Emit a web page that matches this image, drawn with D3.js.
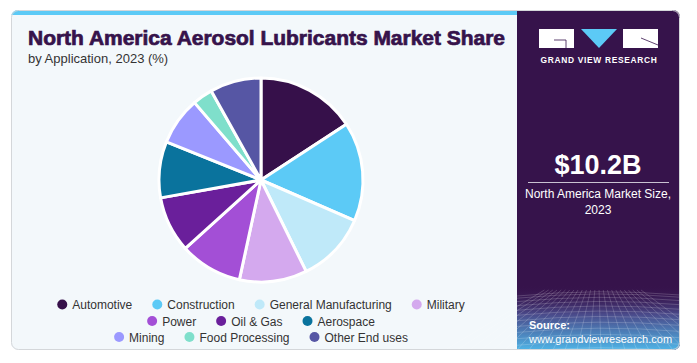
<!DOCTYPE html>
<html>
<head>
<meta charset="utf-8">
<script src="https://cdn.jsdelivr.net/npm/d3@7"></script>
<style>
  body { margin: 0; background: #fff; }
  svg { display: block; font-family: "Liberation Sans", Arial, sans-serif; }
</style>
</head>
<body>
<div id="chart"></div>
<script>
// Data (share, %)
const categories = ["Automotive", "Construction", "General Manufacturing", "Military", "Power",
                    "Oil & Gas", "Aerospace", "Mining", "Food Processing", "Other End uses"];
const shares = [15.8, 15.7, 11.2, 10.7, 9.9, 8.9, 8.9, 7.6, 3.2, 8.1];
const colors = ["#36104a", "#5ccaf6", "#bfe9f9", "#d4a9ee", "#a34fd6",
                "#6a1f9b", "#0a739d", "#9b99ff", "#7fdfcb", "#5656a4"];
const legendRows = [[0, 1, 2, 3], [4, 5, 6], [7, 8, 9]];

const W = 697, H = 363;
const svg = d3.select("#chart").append("svg")
    .attr("width", W).attr("height", H);

const defs = svg.append("defs");
const clip = defs.append("clipPath").attr("id", "card");
clip.append("rect").attr("x", 11).attr("y", 10).attr("width", 669).attr("height", 340).attr("rx", 7);

const card = svg.append("g").attr("clip-path", "url(#card)");

// Main panel
card.append("rect").attr("x", 11).attr("y", 10).attr("width", 520).attr("height", 340)
    .attr("fill", "#f3f8fb");
card.append("rect").attr("x", 11).attr("y", 10).attr("width", 520).attr("height", 5)
    .attr("fill", "#5ccaf6");

// Right panel
card.append("rect").attr("x", 517).attr("y", 10).attr("width", 163).attr("height", 340)
    .attr("fill", "#36134b");

const grad = defs.append("linearGradient").attr("id", "fade")
    .attr("x1", 0).attr("y1", 0).attr("x2", 0).attr("y2", 1);
grad.append("stop").attr("offset", 0).attr("stop-color", "#36134b").attr("stop-opacity", 0);
grad.append("stop").attr("offset", 0.45).attr("stop-color", "#4a4a8a");
grad.append("stop").attr("offset", 1).attr("stop-color", "#4fb4e6");
card.append("rect").attr("x", 517).attr("y", 285).attr("width", 163).attr("height", 65)
    .attr("fill", "url(#fade)");

// faint grid in the bottom of the panel
const grid = card.append("g").attr("stroke", "#ffffff").attr("stroke-opacity", 0.18).attr("fill", "none");
d3.range(0, 12).forEach(i => {
  const y = 292 + Math.pow(i, 1.35) * 2.2;
  grid.append("path").attr("d", `M517,${y + 4} Q598,${y - 4} 680,${y + 3}`);
});
d3.range(-6, 18).forEach(i => {
  const x0 = 517 + i * 12;
  grid.append("line").attr("x1", 598 + (x0 - 598) * 0.35).attr("y1", 290)
      .attr("x2", x0).attr("y2", 350);
});

// Outer border
svg.append("rect").attr("x", 11.5).attr("y", 10.5).attr("width", 668).attr("height", 339).attr("rx", 7)
    .attr("fill", "none").attr("stroke", "#d4d7da");

// Logo
const logo = svg.append("g");
logo.append("rect").attr("x", 539).attr("y", 29).attr("width", 35).attr("height", 19).attr("fill", "#fff");
logo.append("path").attr("d", "M554,40 L566,40 L566,48").attr("stroke", "#36134b").attr("stroke-width", 0.8).attr("fill", "none");
logo.append("path").attr("d", "M581,29 L617,29 L599,48 Z").attr("fill", "#5ccaf6");
logo.append("rect").attr("x", 623).attr("y", 29).attr("width", 35).attr("height", 19).attr("fill", "#fff");
logo.append("path").attr("d", "M641,38 L658,45").attr("stroke", "#36134b").attr("stroke-width", 0.8);
svg.append("text").attr("x", 599).attr("y", 63).attr("text-anchor", "middle")
    .attr("fill", "#fff").attr("font-size", 8.4).attr("font-weight", "bold").attr("letter-spacing", 0.7)
    .text("GRAND VIEW RESEARCH");

// Market size
svg.append("text").attr("x", 598).attr("y", 174).attr("text-anchor", "middle")
    .attr("fill", "#fff").attr("font-size", 27).attr("font-weight", "bold")
    .text("$10.2B");
svg.append("line").attr("x1", 528).attr("x2", 669).attr("y1", 182.5).attr("y2", 182.5)
    .attr("stroke", "#c9c2d2").attr("stroke-width", 1);
svg.append("text").attr("x", 598).attr("y", 198).attr("text-anchor", "middle")
    .attr("fill", "#fff").attr("font-size", 12).text("North America Market Size,");
svg.append("text").attr("x", 598).attr("y", 214).attr("text-anchor", "middle")
    .attr("fill", "#fff").attr("font-size", 12).text("2023");

// Source
svg.append("text").attr("x", 529).attr("y", 329).attr("fill", "#fff")
    .attr("font-size", 11).attr("font-weight", "bold").text("Source:");
svg.append("text").attr("x", 529).attr("y", 343).attr("fill", "#fff")
    .attr("font-size", 11).text("www.grandviewresearch.com");

// Title (heavy face approximated with a thin stroke)
svg.append("text").attr("x", 28).attr("y", 45)
    .attr("fill", "#36134b").attr("stroke", "#36134b").attr("stroke-width", 0.7)
    .attr("font-size", 20).attr("font-weight", "bold")
    .attr("textLength", 477).attr("lengthAdjust", "spacingAndGlyphs")
    .text("North America Aerosol Lubricants Market Share");
svg.append("text").attr("x", 28).attr("y", 63)
    .attr("fill", "#333").attr("font-size", 13).text("by Application, 2023 (%)");

// Pie
const cx = 261, cy = 180, r = 102;
const pie = d3.pie().sort(null).value(d => d)(shares);
const arc = d3.arc().innerRadius(0).outerRadius(r);
svg.append("g").attr("transform", `translate(${cx},${cy})`)
  .selectAll("path")
  .data(pie)
  .join("path")
    .attr("d", arc)
    .attr("fill", (d, i) => colors[i])
    .attr("stroke", "#fff")
    .attr("stroke-width", 3)
    .attr("stroke-linejoin", "round");

// Legend
const legend = svg.append("g").attr("font-size", 12).attr("fill", "#333");
const rowY = [305, 321.5, 337.5];
legendRows.forEach((row, ri) => {
  const g = legend.append("g");
  let x = 0;
  row.forEach(i => {
    g.append("circle").attr("cx", x + 5).attr("cy", rowY[ri] - 0.5).attr("r", 5).attr("fill", colors[i]);
    const t = g.append("text").attr("x", x + 15).attr("y", rowY[ri] + 4).text(categories[i]);
    x += 15 + t.node().getComputedTextLength() + 20;
  });
  const total = x - 20;
  g.attr("transform", `translate(${261 - total / 2},0)`);
});
</script>
</body>
</html>
